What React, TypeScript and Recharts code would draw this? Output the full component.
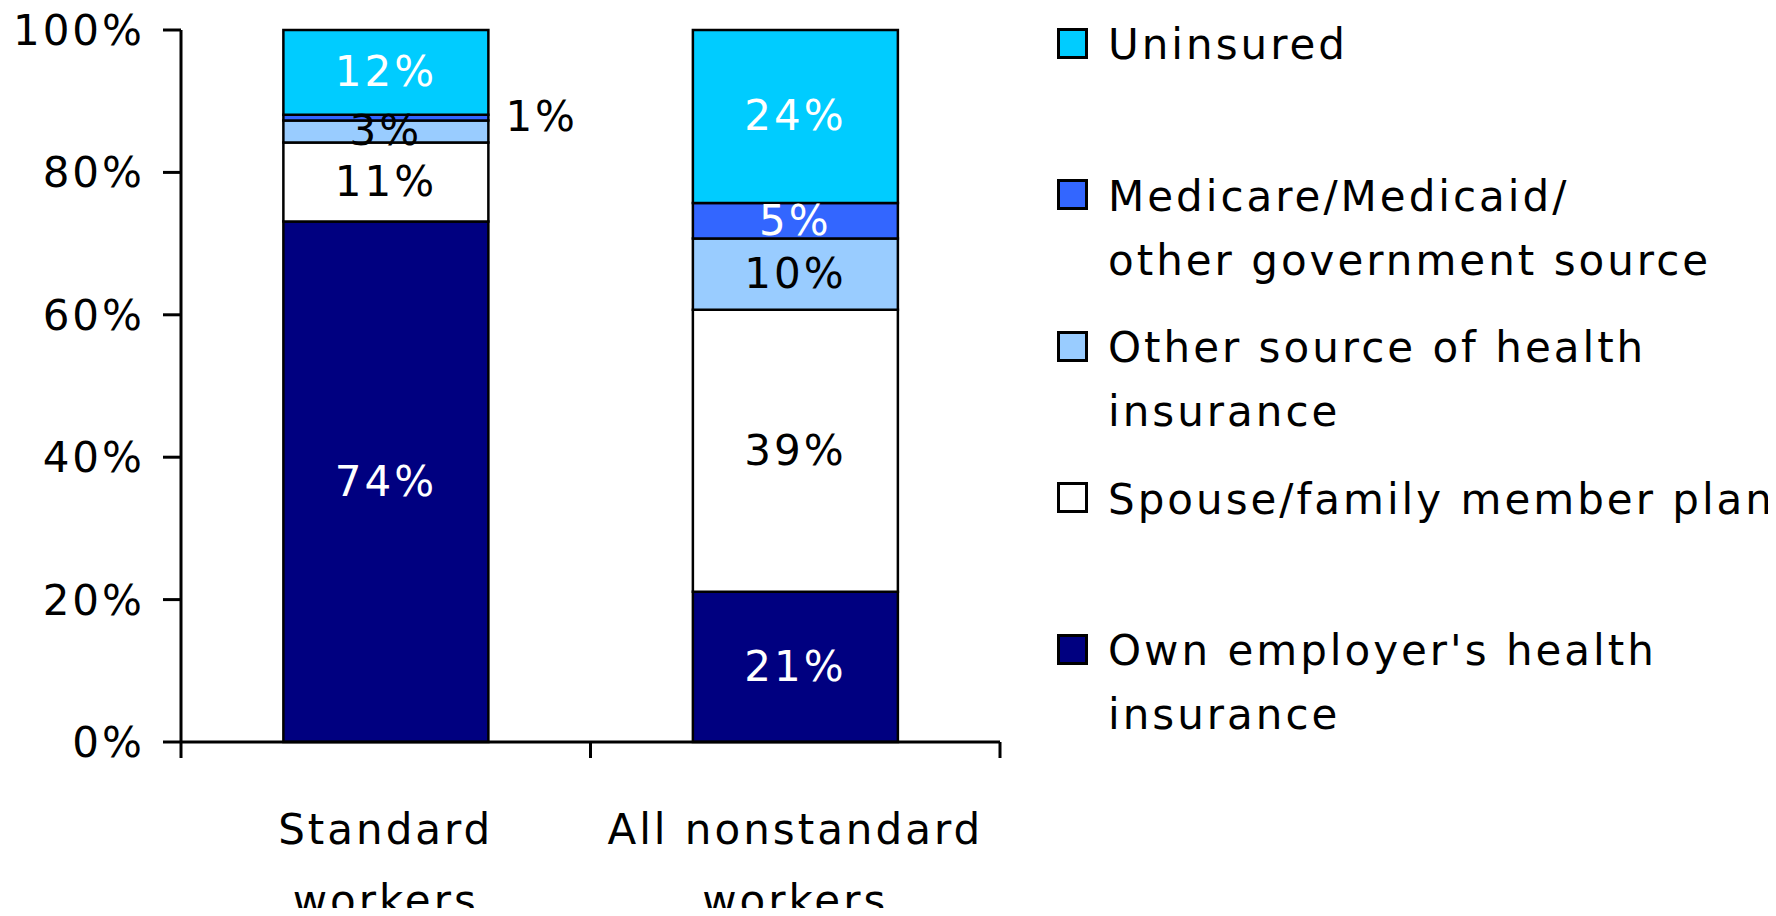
import React from "react";
import { Bar, BarChart, LabelList, Legend, XAxis, YAxis } from "recharts";

const groups = ["Standard workers", "All nonstandard workers"];
const groupLines = [["Standard", "workers"], ["All nonstandard", "workers"]];

// segment sizes (bottom to top)
const ownEmployer = [73.1, 21.1];
const spouseFamily = [11.1, 39.6];
const otherSource = [3.1, 10.0];
const government = [0.8, 5.0];
const uninsured = [11.9, 24.3];

// printed labels
const ownLabels = ["74%", "21%"];
const spouseLabels = ["11%", "39%"];
const otherLabels = ["3%", "10%"];
const governmentLabels = ["1%", "5%"];
const uninsuredLabels = ["12%", "24%"];

const yTicks = [0, 20, 40, 60, 80, 100];
const xBoundaryTicks = [0, 0.5, 1, 1.5, 2];

const FONT = "'DejaVu Sans', Verdana, sans-serif";
const FS = 42;
const LS = 3;

const series = [
  { key: "own", name: ["Own employer's health", "insurance"], color: "#000080", text: "#fff", values: ownEmployer, labels: ownLabels },
  { key: "spouse", name: ["Spouse/family member plan"], color: "#ffffff", text: "#000", values: spouseFamily, labels: spouseLabels },
  { key: "other", name: ["Other source of health", "insurance"], color: "#99ccff", text: "#000", values: otherSource, labels: otherLabels },
  { key: "gov", name: ["Medicare/Medicaid/", "other government source"], color: "#3366ff", text: "#fff", values: government, labels: governmentLabels },
  { key: "unins", name: ["Uninsured"], color: "#00ccff", text: "#fff", values: uninsured, labels: uninsuredLabels },
];

const data = groups.map((g, i) => {
  const row: Record<string, any> = { group: g, pos: i + 0.5 };
  series.forEach((s) => (row[s.key] = s.values[i]));
  return row;
});

const segmentLabel = (s: (typeof series)[number]) => (props: any) => {
  const x = Number(props.x), y = Number(props.y);
  const w = Number(props.width), h = Number(props.height);
  const text = s.labels[props.index];
  const common = { fontFamily: FONT, fontSize: FS, letterSpacing: LS, dy: "0.33em" };
  if (h < 12) {
    return (
      <text x={x + w + 17} y={y + h / 2} textAnchor="start" fill="#000" {...common}>
        {text}
      </text>
    );
  }
  return (
    <text x={x + w / 2} y={y + h / 2} textAnchor="middle" fill={s.text} {...common}>
      {text}
    </text>
  );
};

const BottomTick = (props: any) => {
  const { x, y, payload } = props;
  const v = Number(payload.value);
  if (Number.isInteger(v)) {
    return <line x1={x} x2={x} y1={y} y2={y + 16} stroke="#000" strokeWidth={3} />;
  }
  const lines = groupLines[Math.floor(v)];
  return (
    <g>
      {lines.map((l, i) => (
        <text key={i} x={x} y={y + 87 + i * 71} dy="0.36em" textAnchor="middle" fill="#000"
          fontFamily={FONT} fontSize={FS} letterSpacing={LS}>
          {l}
        </text>
      ))}
    </g>
  );
};

const LegendBox = () => (
  <div style={{ fontFamily: FONT, fontSize: FS, letterSpacing: LS, color: "#000" }}>
    {[...series].reverse().map((s) => (
      <div key={s.key} style={{ display: "flex", alignItems: "flex-start", height: 151.5 }}>
        <div style={{ width: 31, height: 31, boxSizing: "border-box", border: "3px solid #000", background: s.color, marginTop: 14.5, flexShrink: 0 }} />
        <div style={{ marginLeft: 20, lineHeight: "64px", whiteSpace: "pre" }}>
          {s.name.join("\n")}
        </div>
      </div>
    ))}
  </div>
);

export default function App() {
  return (
    <div style={{ position: "relative", width: 1760, height: 908, marginBottom: -8 }}>
      <BarChart width={1760} height={908} data={data} barCategoryGap="25%"
        margin={{ top: 22, right: 768, bottom: 0, left: 0 }}>
        <XAxis xAxisId="cat" dataKey="group" hide height={0} />
        <XAxis xAxisId="num" dataKey="pos" type="number" domain={[0, 2]} allowDataOverflow
          ticks={xBoundaryTicks} interval={0}
          height={174} tickSize={0} tickMargin={0} tickLine={false}
          axisLine={{ stroke: "#000", strokeWidth: 3 }} tick={<BottomTick />} />
        <YAxis domain={[0, 100]} ticks={yTicks} interval={0} width={173} tickSize={18} tickMargin={18}
          tickFormatter={(v) => `${v}%`}
          axisLine={{ stroke: "#000", strokeWidth: 3 }} tickLine={{ stroke: "#000", strokeWidth: 3 }}
          tick={{ fill: "#000", fontSize: FS, fontFamily: FONT, letterSpacing: LS }} />
        <Legend layout="vertical" align="center" verticalAlign="middle" content={<LegendBox />}
          wrapperStyle={{ position: "absolute", left: 1049, top: 5, width: 711 }} />
        {series.map((s) => (
          <Bar key={s.key} xAxisId="cat" dataKey={s.key} name={s.name.join(" ")} stackId="a"
            fill={s.color} stroke="#000" strokeWidth={2.5} isAnimationActive={false}>
            <LabelList dataKey={s.key} content={segmentLabel(s)} />
          </Bar>
        ))}
      </BarChart>
    </div>
  );
}
